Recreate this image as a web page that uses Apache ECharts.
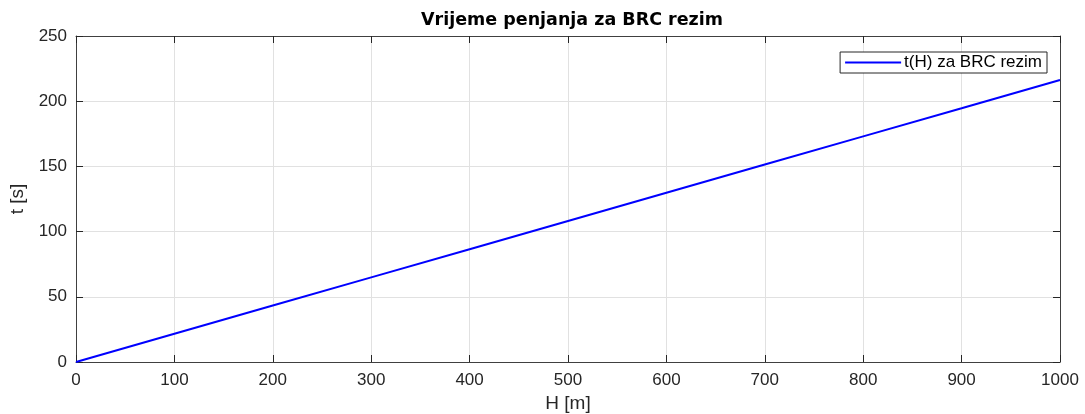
<!DOCTYPE html>
<html>
<head>
<meta charset="utf-8">
<script src="https://cdn.jsdelivr.net/npm/echarts@6/dist/echarts.min.js"></script>
<style>
  html, body { margin: 0; padding: 0; background: #fff; }
  #chart { width: 1085px; height: 414px; }
</style>
</head>
<body>
<div id="chart"></div>
<script>
// visine [m] i vrijeme penjanja [s]
const heights = [0, 100, 200, 300, 400, 500, 600, 700, 800, 900, 1000]
const times = [0, 21.6, 43.3, 64.9, 86.5, 108.1, 129.8, 151.4, 173.0, 194.6, 216.3]
const seriesName = 't(H) za BRC rezim'

const chart = echarts.init(document.getElementById('chart'))
const font = 'Liberation Sans, Arial, sans-serif'
const axisColor = '#262626'
const tickColor = '#404040'

const option = {
  animation: false,
  title: {
    text: 'Vrijeme penjanja za BRC rezim',
    left: 567,
    textAlign: 'center',
    top: 6,
    textStyle: { fontFamily: 'DejaVu Sans', fontSize: 17.5, fontWeight: 'bold', color: '#000' }
  },
  legend: {
    right: 38,
    top: 52,
    orient: 'vertical',
    backgroundColor: '#fff',
    borderColor: '#262626',
    borderWidth: 1,
    borderRadius: 0,
    padding: [2, 5, 2, 5],
    itemWidth: 56,
    itemHeight: 2,
    itemGap: 0,
    icon: 'rect',
    textStyle: { fontFamily: font, fontSize: 17, color: '#000', padding: [0, 0, 0, -2] },
    data: [seriesName]
  },
  grid: { left: 76, right: 25, top: 36, bottom: 52, outerBoundsMode: 'none' },
  xAxis: [
    {
      type: 'value', min: 0, max: 1000, interval: 100,
      name: 'H [m]', nameLocation: 'middle', nameGap: 32,
      nameTextStyle: { fontFamily: font, fontSize: 19, color: axisColor },
      axisLine: { onZero: false, lineStyle: { color: tickColor, width: 1 } },
      axisTick: { inside: true, length: 7, lineStyle: { color: axisColor } },
      axisLabel: { fontFamily: font, fontSize: 17, color: axisColor, margin: 10, formatter: v => String(v) },
      splitLine: { show: true, lineStyle: { color: '#e1e1e1' } }
    },
    {
      type: 'value', min: 0, max: 1000, interval: 100, position: 'top',
      axisLine: { show: true, onZero: false, lineStyle: { color: tickColor, width: 1 } },
      axisTick: { inside: true, length: 7, lineStyle: { color: axisColor } },
      axisLabel: { show: false },
      splitLine: { show: false }
    }
  ],
  yAxis: [
    {
      type: 'value', min: 0, max: 250, interval: 50,
      name: 't [s]', nameLocation: 'middle', nameGap: 45,
      nameTextStyle: { fontFamily: font, fontSize: 19, color: axisColor },
      axisLine: { show: true, onZero: false, lineStyle: { color: tickColor, width: 1 } },
      axisTick: { show: true, inside: true, length: 7, lineStyle: { color: axisColor } },
      axisLabel: { fontFamily: font, fontSize: 17, color: axisColor, margin: 9 },
      splitLine: { show: true, lineStyle: { color: '#e1e1e1' } }
    },
    {
      type: 'value', min: 0, max: 250, interval: 50, position: 'right',
      axisLine: { show: true, onZero: false, lineStyle: { color: tickColor, width: 1 } },
      axisTick: { show: true, inside: true, length: 7, lineStyle: { color: axisColor } },
      axisLabel: { show: false },
      splitLine: { show: false }
    }
  ],
  series: [
    {
      name: seriesName,
      type: 'line',
      data: heights.map((h, i) => [h, times[i]]),
      showSymbol: false,
      lineStyle: { color: '#0000ff', width: 2 },
      itemStyle: { color: '#0000ff' }
    }
  ]
}

chart.setOption(option)
</script>
</body>
</html>
